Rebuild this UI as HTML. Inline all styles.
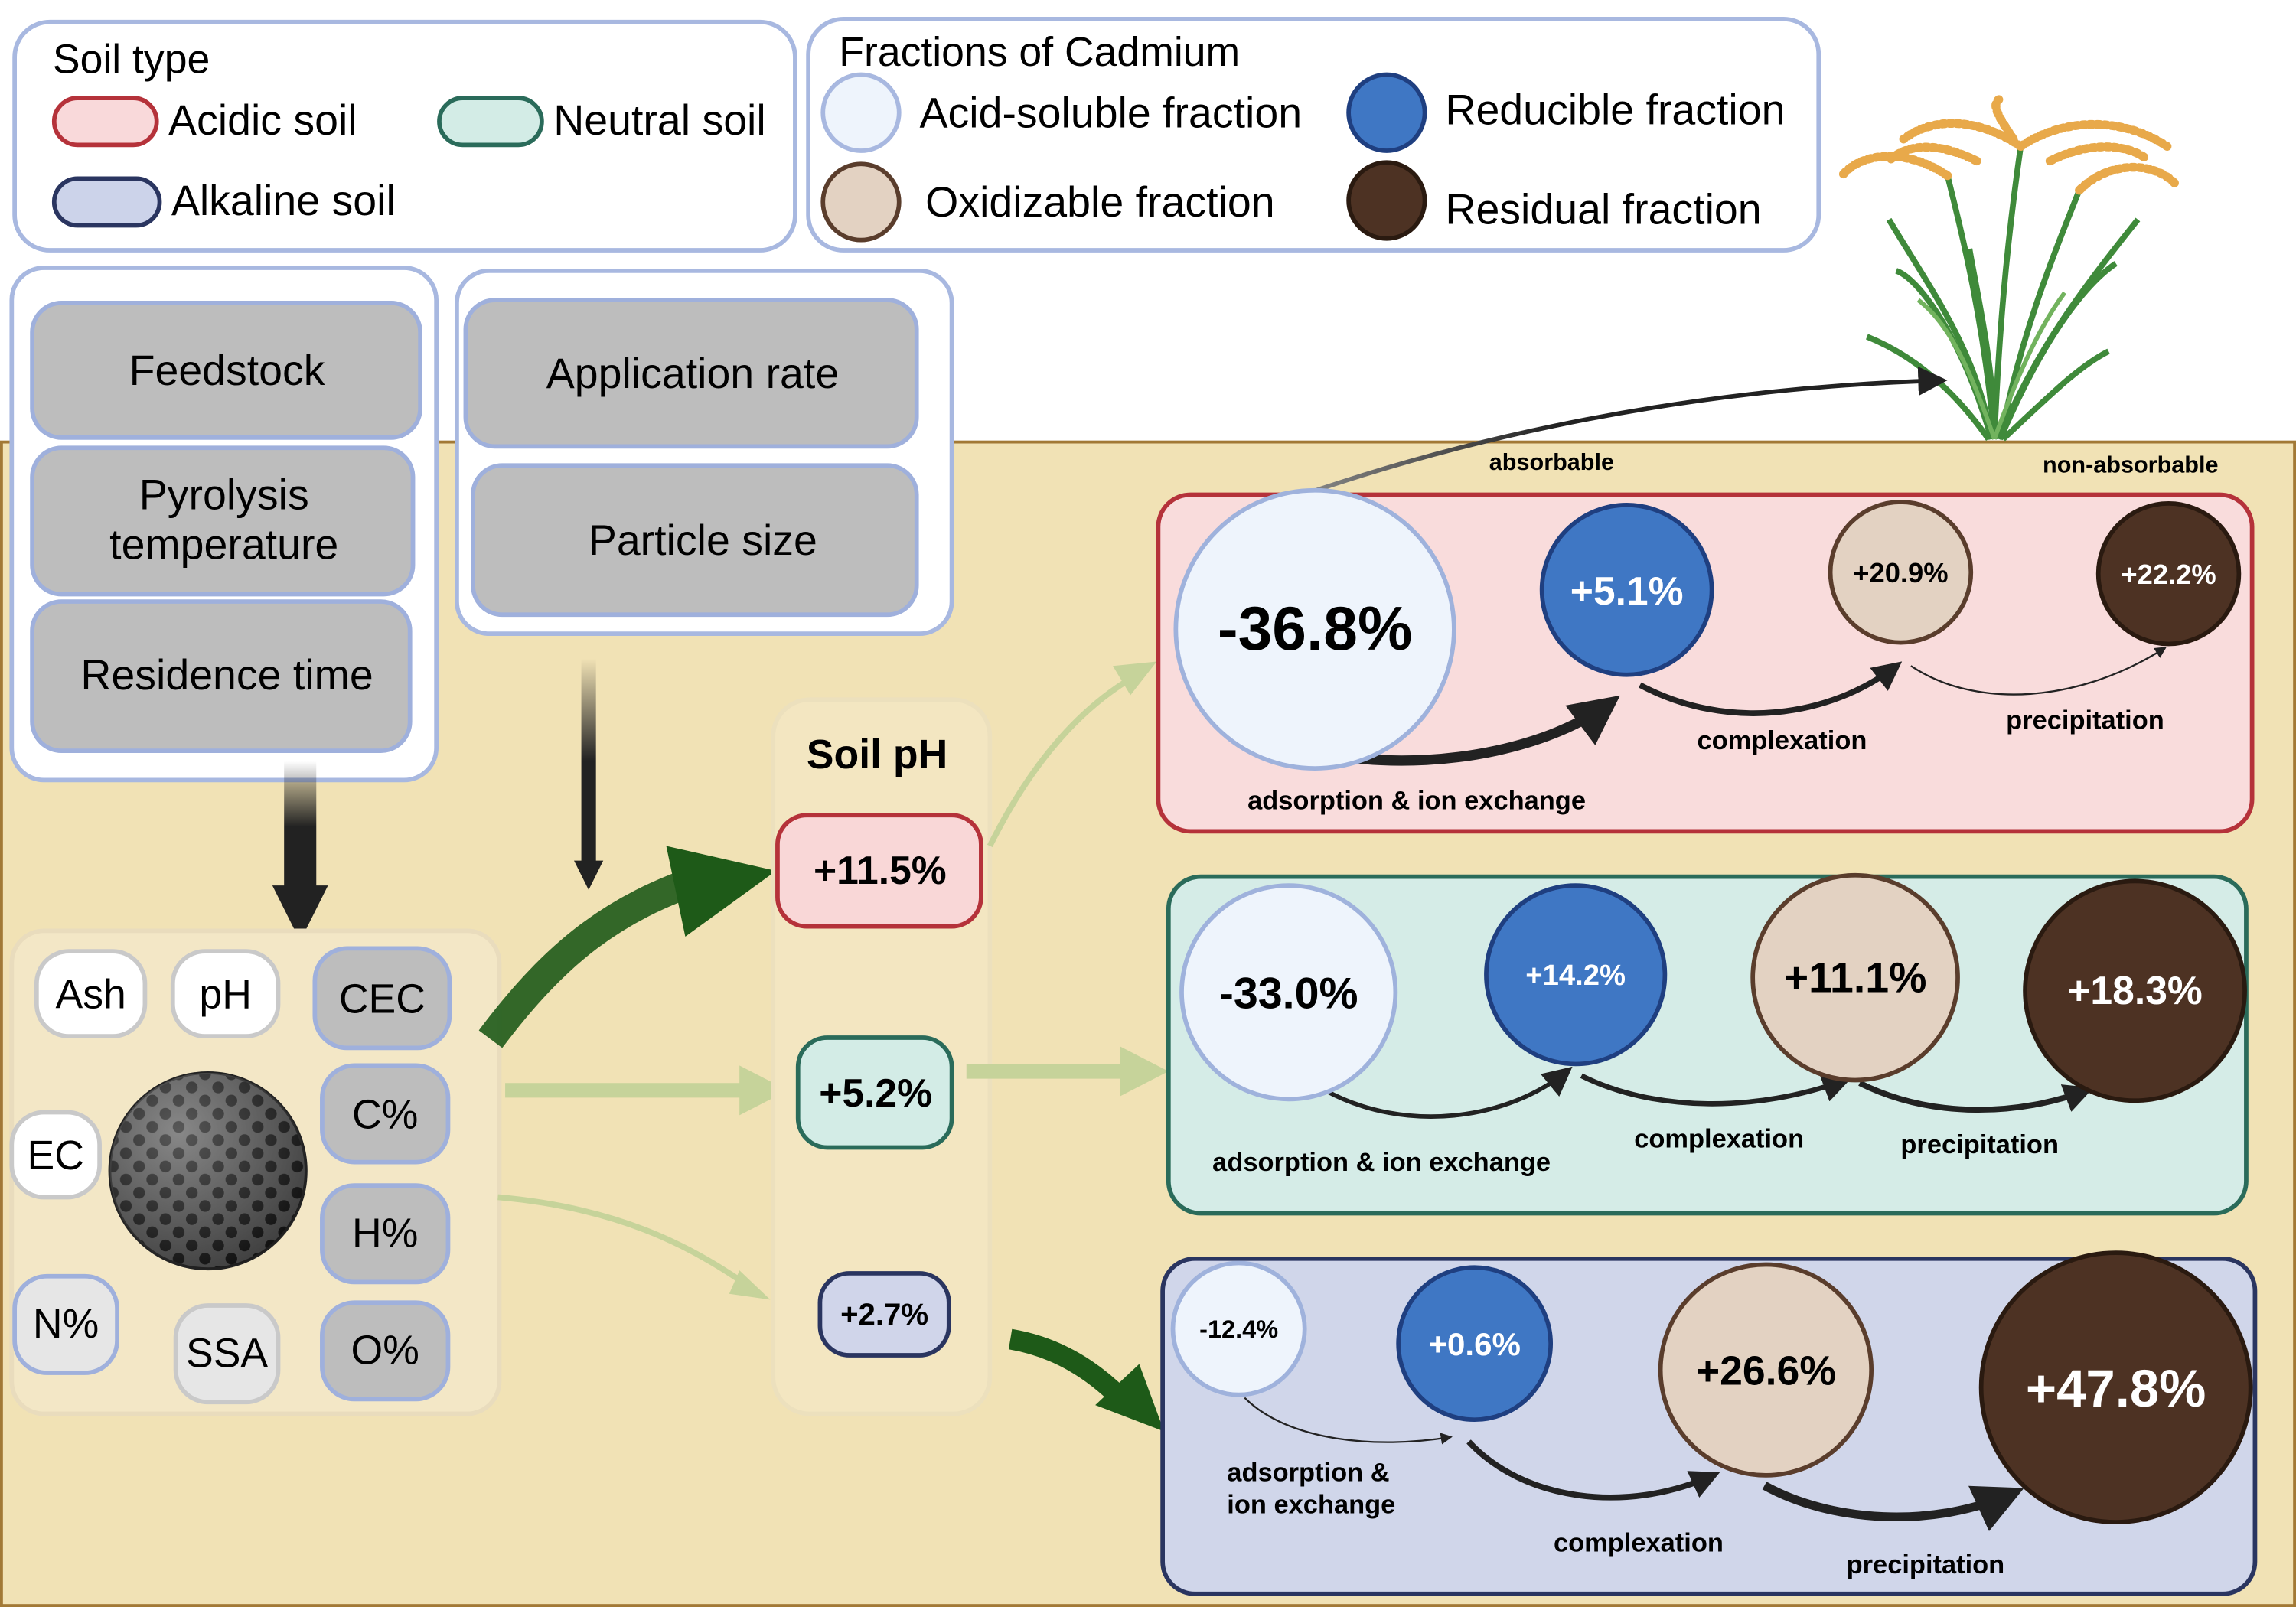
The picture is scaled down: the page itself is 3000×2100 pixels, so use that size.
<!DOCTYPE html>
<html><head><meta charset="utf-8"><style>
html,body{margin:0;padding:0;background:#fff}
svg{display:block}
text{font-family:"Liberation Sans",sans-serif}
</style></head><body>
<svg width="3000" height="2100" viewBox="0 0 1568 1098" xmlns="http://www.w3.org/2000/svg" preserveAspectRatio="none">
<defs>
<marker id="ah" markerWidth="8" markerHeight="8" refX="6" refY="4" orient="auto" markerUnits="userSpaceOnUse"><path d="M0,0 L8,4 L0,8 z" fill="#222"/></marker>
<marker id="ahb" markerWidth="34" markerHeight="34" refX="26" refY="17" orient="auto" markerUnits="userSpaceOnUse"><path d="M0,0 L34,17 L0,34 z" fill="#222"/></marker>
<marker id="ahm" markerWidth="20" markerHeight="20" refX="15" refY="10" orient="auto" markerUnits="userSpaceOnUse"><path d="M0,0 L20,10 L0,20 z" fill="#222"/></marker>
<linearGradient id="vg" x1="0" y1="0" x2="0" y2="1"><stop offset="0" stop-color="#222" stop-opacity="0"/><stop offset="0.5" stop-color="#222"/></linearGradient>
<linearGradient id="ag" x1="0" y1="0" x2="1" y2="0"><stop offset="0" stop-color="#888"/><stop offset="0.4" stop-color="#222"/></linearGradient>
<pattern id="dots" width="18" height="18" patternUnits="userSpaceOnUse"><rect width="18" height="18" fill="#555"/><circle cx="5" cy="5" r="4" fill="#111"/><circle cx="14" cy="14" r="4" fill="#111"/></pattern>
<radialGradient id="sph" cx="0.35" cy="0.3" r="0.8"><stop offset="0" stop-color="#fff" stop-opacity="0.3"/><stop offset="1" stop-color="#000" stop-opacity="0.3"/></radialGradient>
</defs>
<rect x="0" y="302" width="1568" height="796" fill="#f1e2b5"/>
<rect x="1" y="302" width="1566" height="795" fill="none" stroke="#a27936" stroke-width="2"/>

<rect x="10" y="15" width="533" height="156" rx="24" fill="#fff" stroke="#a8b8e0" stroke-width="3"/>
<text x="36" y="50" font-size="28">Soil type</text>
<rect x="37" y="67" width="70" height="32" rx="16" fill="#f9d9da" stroke="#b5323a" stroke-width="3"/>
<text x="115" y="92" font-size="29">Acidic soil</text>
<rect x="300" y="67" width="70" height="32" rx="16" fill="#d3ece6" stroke="#2a6b5a" stroke-width="3"/>
<text x="378" y="92" font-size="29">Neutral soil</text>
<rect x="37" y="122" width="72" height="32" rx="16" fill="#ccd3ea" stroke="#2a3560" stroke-width="3"/>
<text x="117" y="147" font-size="29">Alkaline soil</text>

<rect x="552" y="13" width="690" height="158" rx="24" fill="#fff" stroke="#a8b8e0" stroke-width="3"/>
<text x="573" y="45" font-size="28">Fractions of Cadmium</text>
<circle cx="588" cy="77" r="26" fill="#eef4fc" stroke="#a8b8e0" stroke-width="3"/>
<text x="628" y="87" font-size="29">Acid-soluble fraction</text>
<circle cx="947" cy="77" r="26" fill="#3f77c4" stroke="#1f3f80" stroke-width="3"/>
<text x="987" y="85" font-size="29">Reducible fraction</text>
<circle cx="588" cy="138" r="26" fill="#e3d2c2" stroke="#5a3d2c" stroke-width="3"/>
<text x="632" y="148" font-size="29">Oxidizable fraction</text>
<circle cx="947" cy="137" r="26" fill="#4d3223" stroke="#2a1a10" stroke-width="3"/>
<text x="987" y="153" font-size="29">Residual fraction</text>

<!-- plant -->
<g stroke="#3f8a3a" stroke-width="4" fill="none">
<path d="M1360,300 C1350,240 1320,200 1290,150"/>
<path d="M1362,300 C1365,230 1370,170 1380,100"/>
<path d="M1365,300 C1390,240 1420,200 1460,150"/>
<path d="M1358,300 C1330,260 1300,240 1275,230"/>
<path d="M1368,300 C1400,270 1420,250 1440,240"/>
<path d="M1362,300 C1355,220 1340,160 1330,120"/>
<path d="M1366,300 C1380,230 1400,180 1420,130"/>
<path d="M1360,300 C1340,230 1310,190 1295,185"/>
<path d="M1366,300 C1400,220 1430,190 1445,180"/>
<path d="M1363,300 C1360,240 1350,200 1345,170"/>
</g>
<g stroke="#72b35e" stroke-width="3" fill="none">
<path d="M1362,300 C1380,250 1395,220 1410,200"/>
<path d="M1362,300 C1345,250 1330,220 1310,205"/>
</g>
<g stroke="#e8a94a" stroke-width="6" fill="none" stroke-linecap="round" stroke-dasharray="2 3">
<path d="M1380,100 C1350,80 1320,80 1300,95"/><path d="M1380,100 C1410,80 1450,80 1480,100"/>
<path d="M1330,120 C1300,100 1270,105 1258,120"/><path d="M1420,130 C1440,110 1470,110 1485,125"/>
<path d="M1375,95 C1365,80 1360,72 1365,68"/><path d="M1350,110 C1320,95 1300,100 1290,110"/>
<path d="M1400,110 C1430,95 1455,100 1465,108"/>
</g>
<text x="1395" y="323" font-size="16" font-weight="bold">non-absorbable</text>
<text x="1017" y="321" font-size="16" font-weight="bold">absorbable</text>
<path d="M890,338 C1000,300 1150,265 1325,260" stroke="url(#ag)" stroke-width="3" fill="none" marker-end="url(#ahm)"/>

<rect x="8" y="183" width="290" height="350" rx="22" fill="#fff" stroke="#a8b8e0" stroke-width="3"/>
<g fill="#bdbdbd" stroke="#9fb0dc" stroke-width="3">
<rect x="22" y="207" width="265" height="92" rx="20"/>
<rect x="22" y="306" width="260" height="100" rx="20"/>
<rect x="22" y="411" width="258" height="102" rx="20"/>
</g>
<text x="155" y="263" font-size="29" text-anchor="middle">Feedstock</text>
<text x="153" y="348" font-size="29" text-anchor="middle">Pyrolysis</text>
<text x="153" y="382" font-size="29" text-anchor="middle">temperature</text>
<text x="155" y="471" font-size="29" text-anchor="middle">Residence time</text>

<rect x="312" y="185" width="338" height="248" rx="22" fill="#fff" stroke="#a8b8e0" stroke-width="3"/>
<g fill="#bdbdbd" stroke="#9fb0dc" stroke-width="3">
<rect x="318" y="205" width="308" height="100" rx="20"/>
<rect x="323" y="318" width="303" height="102" rx="20"/>
</g>
<text x="473" y="265" font-size="29" text-anchor="middle">Application rate</text>
<text x="480" y="379" font-size="29" text-anchor="middle">Particle size</text>

<rect x="194" y="520" width="22" height="90" fill="url(#vg)"/>
<path d="M186,605 L224,605 L205,643 z" fill="#222"/>
<rect x="397" y="450" width="10" height="140" fill="url(#vg)"/>
<path d="M392,588 L412,588 L402,608 z" fill="#222"/>

<rect x="8" y="636" width="333" height="330" rx="22" fill="#f3e7c6" stroke="#e9dcbd" stroke-width="3"/>
<g stroke="#c9c9c9" stroke-width="3">
<rect x="25" y="650" width="74" height="58" rx="22" fill="#fff"/>
<rect x="118" y="650" width="72" height="58" rx="22" fill="#fff"/>
<rect x="8" y="760" width="60" height="58" rx="22" fill="#fff"/>
<rect x="10" y="872" width="70" height="66" rx="22" fill="#e6e6e6" stroke="#9fb0dc"/>
<rect x="120" y="892" width="70" height="66" rx="22" fill="#e6e6e6"/>
</g>
<g fill="#bdbdbd" stroke="#9fb0dc" stroke-width="3">
<rect x="215" y="648" width="92" height="68" rx="22"/>
<rect x="220" y="728" width="86" height="66" rx="22"/>
<rect x="220" y="810" width="86" height="66" rx="22"/>
<rect x="220" y="890" width="86" height="66" rx="22"/>
</g>
<g font-size="28" text-anchor="middle">
<text x="62" y="689">Ash</text><text x="154" y="689">pH</text><text x="261" y="692">CEC</text>
<text x="38" y="799">EC</text><text x="263" y="771">C%</text><text x="263" y="852">H%</text>
<text x="45" y="914">N%</text><text x="155" y="934">SSA</text><text x="263" y="932">O%</text>
</g>
<circle cx="142" cy="800" r="67" fill="url(#dots)" stroke="#222" stroke-width="2"/>
<circle cx="142" cy="800" r="67" fill="url(#sph)"/>

<path d="M335,710 C380,650 420,620 480,600" stroke="#1e5a18" stroke-width="20" fill="none" stroke-opacity="0.9"/>
<path d="M455,578 L530,595 L468,640 z" fill="#1e5a18"/>
<path d="M345,745 L510,745" stroke="#c6d39a" stroke-width="10"/>
<path d="M505,728 L538,745 L505,762 z" fill="#c6d39a"/>
<path d="M340,818 C420,825 470,850 510,878" stroke="#c6d39a" stroke-width="4" fill="none"/>
<path d="M505,868 L526,888 L498,884 z" fill="#c6d39a"/>

<rect x="528" y="478" width="148" height="488" rx="25" fill="#f3e6c1" stroke="#ece0bd" stroke-width="3"/>
<text x="599" y="525" font-size="28" font-weight="bold" text-anchor="middle">Soil pH</text>
<rect x="531" y="557" width="139" height="76" rx="20" fill="#f9d7d7" stroke="#b5323a" stroke-width="3"/>
<text x="601" y="604" font-size="27" font-weight="bold" text-anchor="middle">+11.5%</text>
<rect x="545" y="709" width="105" height="75" rx="20" fill="#d3ece6" stroke="#2a6b5a" stroke-width="3"/>
<text x="598" y="756" font-size="27" font-weight="bold" text-anchor="middle">+5.2%</text>
<rect x="560" y="870" width="88" height="56" rx="20" fill="#d0d5ea" stroke="#2a3560" stroke-width="3"/>
<text x="604" y="905" font-size="21" font-weight="bold" text-anchor="middle">+2.7%</text>

<path d="M676,578 C700,530 730,490 770,465" stroke="#c6d39a" stroke-width="4" fill="none"/>
<path d="M760,455 L790,452 L772,475 z" fill="#c6d39a"/>
<path d="M660,732 L770,732" stroke="#c6d39a" stroke-width="10"/>
<path d="M765,715 L798,732 L765,749 z" fill="#c6d39a"/>
<path d="M690,915 C720,920 745,935 765,955" stroke="#1e5a18" stroke-width="14" fill="none"/>
<path d="M748,960 L795,978 L778,932 z" fill="#1e5a18"/>

<rect x="791" y="338" width="747" height="230" rx="22" fill="#f9dcdc" stroke="#b5323a" stroke-width="3"/>
<rect x="798" y="599" width="736" height="230" rx="22" fill="#d5ece7" stroke="#2a6b5a" stroke-width="3"/>
<rect x="794" y="860" width="746" height="229" rx="22" fill="#d0d6ea" stroke="#2a3560" stroke-width="3"/>

<path d="M925,518 C990,525 1060,510 1100,480" stroke="#222" stroke-width="7" fill="none" marker-end="url(#ahb)"/>
<path d="M1120,468 C1180,500 1250,490 1295,455" stroke="#222" stroke-width="4" fill="none" marker-end="url(#ahm)"/>
<path d="M1305,455 C1350,485 1420,480 1478,443" stroke="#222" stroke-width="1.2" fill="none" marker-end="url(#ah)"/>
<circle cx="898" cy="430" r="95" fill="#eef4fc" stroke="#9fb2dc" stroke-width="3"/>
<text x="898" y="444" font-size="42" font-weight="bold" text-anchor="middle">-36.8%</text>
<circle cx="1111" cy="403" r="58" fill="#3f77c4" stroke="#1f3f80" stroke-width="3"/>
<text x="1111" y="413" font-size="27" font-weight="bold" fill="#fff" text-anchor="middle">+5.1%</text>
<circle cx="1298" cy="391" r="48" fill="#e3d2c2" stroke="#5a3d2c" stroke-width="3"/>
<text x="1298" y="398" font-size="19" font-weight="bold" text-anchor="middle">+20.9%</text>
<circle cx="1481" cy="392" r="48" fill="#4d3223" stroke="#2a1a10" stroke-width="3"/>
<text x="1481" y="399" font-size="19" font-weight="bold" fill="#fff" text-anchor="middle">+22.2%</text>
<g font-size="18" font-weight="bold">
<text x="852" y="553">adsorption &amp; ion exchange</text>
<text x="1159" y="512">complexation</text>
<text x="1370" y="498">precipitation</text>
</g>

<path d="M905,745 C960,775 1030,765 1070,732" stroke="#222" stroke-width="3" fill="none" marker-end="url(#ahm)"/>
<path d="M1080,735 C1130,760 1200,760 1260,738" stroke="#222" stroke-width="3.5" fill="none" marker-end="url(#ahm)"/>
<path d="M1270,740 C1320,765 1380,762 1425,745" stroke="#222" stroke-width="4" fill="none" marker-end="url(#ahm)"/>
<circle cx="880" cy="678" r="73" fill="#eef4fc" stroke="#9fb2dc" stroke-width="3"/>
<text x="880" y="689" font-size="30" font-weight="bold" text-anchor="middle">-33.0%</text>
<circle cx="1076" cy="666" r="61" fill="#3f77c4" stroke="#1f3f80" stroke-width="3"/>
<text x="1076" y="673" font-size="20" font-weight="bold" fill="#fff" text-anchor="middle">+14.2%</text>
<circle cx="1267" cy="668" r="70" fill="#e3d2c2" stroke="#5a3d2c" stroke-width="3"/>
<text x="1267" y="678" font-size="29" font-weight="bold" text-anchor="middle">+11.1%</text>
<circle cx="1458" cy="677" r="75" fill="#4d3223" stroke="#2a1a10" stroke-width="3"/>
<text x="1458" y="686" font-size="27" font-weight="bold" fill="#fff" text-anchor="middle">+18.3%</text>
<g font-size="18" font-weight="bold">
<text x="828" y="800">adsorption &amp; ion exchange</text>
<text x="1116" y="784">complexation</text>
<text x="1298" y="788">precipitation</text>
</g>

<path d="M850,955 C880,985 940,990 990,982" stroke="#222" stroke-width="1.2" fill="none" marker-end="url(#ah)"/>
<path d="M1003,985 C1040,1025 1110,1035 1170,1008" stroke="#222" stroke-width="4" fill="none" marker-end="url(#ahm)"/>
<path d="M1205,1015 C1250,1040 1320,1045 1375,1020" stroke="#222" stroke-width="6" fill="none" marker-end="url(#ahb)"/>
<circle cx="846" cy="908" r="45" fill="#eef4fc" stroke="#9fb2dc" stroke-width="3"/>
<text x="846" y="914" font-size="17" font-weight="bold" text-anchor="middle">-12.4%</text>
<circle cx="1007" cy="918" r="52" fill="#3f77c4" stroke="#1f3f80" stroke-width="3"/>
<text x="1007" y="926" font-size="22" font-weight="bold" fill="#fff" text-anchor="middle">+0.6%</text>
<circle cx="1206" cy="936" r="72" fill="#e3d2c2" stroke="#5a3d2c" stroke-width="3"/>
<text x="1206" y="946" font-size="28" font-weight="bold" text-anchor="middle">+26.6%</text>
<circle cx="1445" cy="948" r="92" fill="#4d3223" stroke="#2a1a10" stroke-width="3"/>
<text x="1445" y="961" font-size="36" font-weight="bold" fill="#fff" text-anchor="middle">+47.8%</text>
<g font-size="18" font-weight="bold">
<text x="838" y="1012">adsorption &amp;</text>
<text x="838" y="1034">ion exchange</text>
<text x="1061" y="1060">complexation</text>
<text x="1261" y="1075">precipitation</text>
</g>
</svg>
</body></html>
